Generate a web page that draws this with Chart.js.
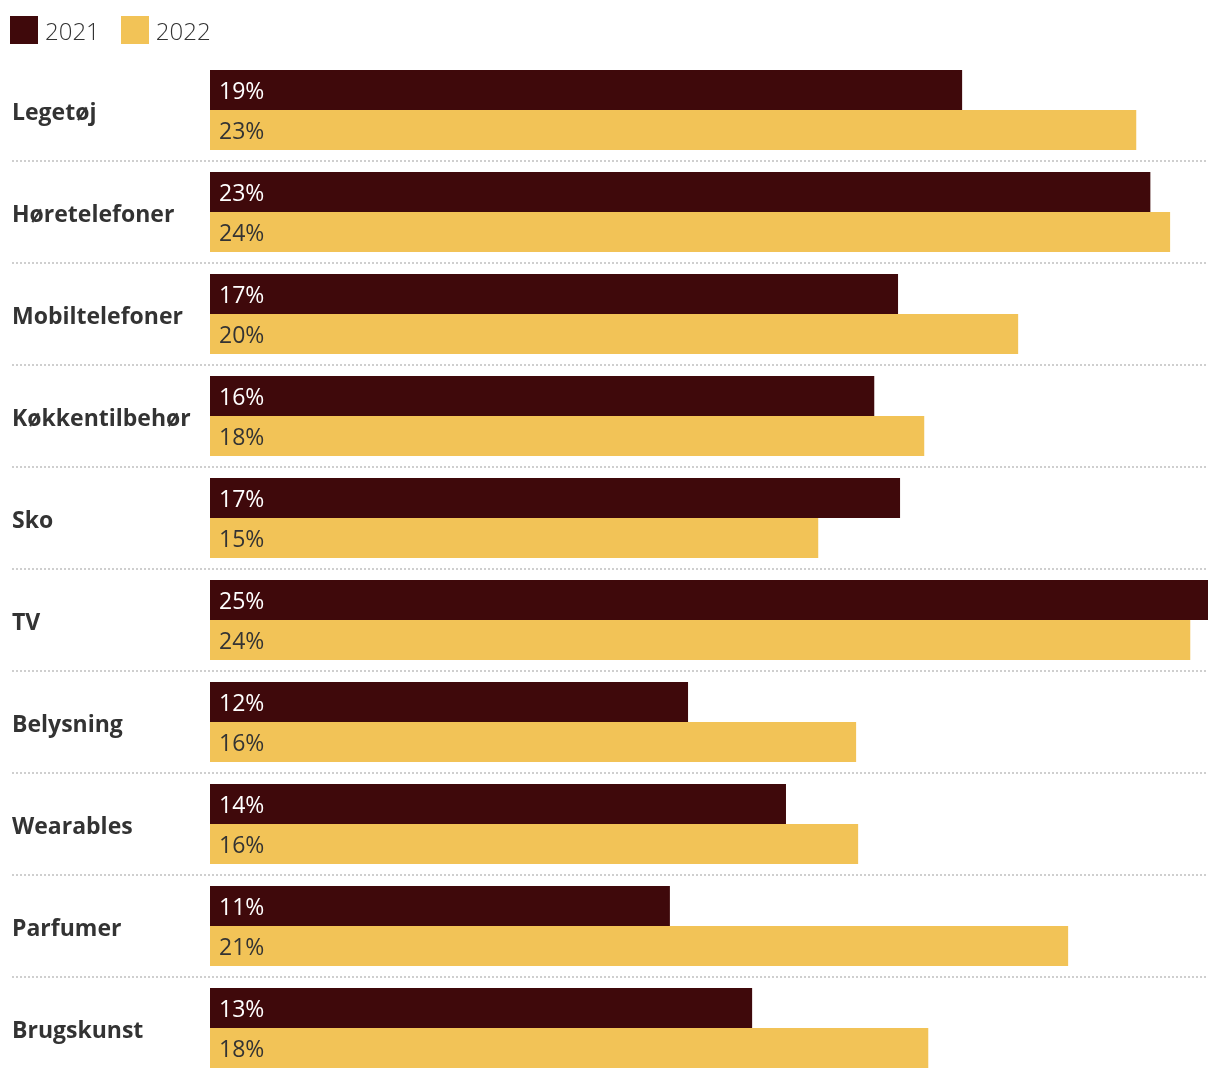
<!DOCTYPE html>
<html>
<head>
<meta charset="utf-8">
<script src="https://cdn.jsdelivr.net/npm/chart.js@4/dist/chart.umd.min.js"></script>
<style>
  body { margin: 0; background: #fff; font-family: "Open Sans", sans-serif; overflow: hidden; }
  #wrap { position: relative; width: 1220px; height: 1080px; }
  #legend { position: absolute; left: 10px; top: 16px; height: 28px; display: flex; align-items: center; font-size: 24px; font-weight: 300; color: #333; }
  #legend span.box { display: inline-block; width: 28px; height: 28px; margin-right: 7px; }
  #legend span.item { display: flex; align-items: center; margin-right: 21px; }
  canvas { display: block; }
</style>
</head>
<body>
<div id="wrap">
  <div id="legend"></div>
  <canvas id="chart" width="1220" height="1080"></canvas>
</div>
<script>
var categories = ["Legetøj", "Høretelefoner", "Mobiltelefoner", "Køkkentilbehør", "Sko", "TV", "Belysning", "Wearables", "Parfumer", "Brugskunst"];
var values2021 = [18.66, 23.33, 17.07, 16.48, 17.12, 24.76, 11.86, 14.29, 11.41, 13.45];
var values2022 = [22.98, 23.82, 20.05, 17.72, 15.09, 24.32, 16.03, 16.08, 21.29, 17.82];
var seriesNames = ["2021", "2022"];
var colors = ["#3f090b", "#f2c357"];
var labelColors = ["#ffffff", "#333333"];

// html legend
var legend = document.getElementById("legend");
seriesNames.forEach(function(name, i){
    var item = document.createElement("span");
    item.className = "item";
    item.innerHTML = '<span class="box" style="background:' + colors[i] + '"></span>' + name;
    legend.appendChild(item);
});

// dotted lines between categories
var separators = {
    id: "separators",
    beforeDatasetsDraw: function(chart){
        var ctx = chart.ctx;
        var y = chart.scales.y;
        var area = chart.chartArea;
        ctx.save();
        ctx.strokeStyle = "#cfcfcf";
        ctx.lineWidth = 2;
        ctx.setLineDash([2, 2]);
        for (var i = 0; i < categories.length - 1; i++) {
            var pos = Math.round((y.getPixelForValue(i) + y.getPixelForValue(i + 1)) / 2);
            ctx.beginPath();
            ctx.moveTo(12, pos);
            ctx.lineTo(area.right, pos);
            ctx.stroke();
        }
        ctx.restore();
    }
};

// percent labels inside bars
var barLabels = {
    id: "barLabels",
    afterDatasetsDraw: function(chart){
        var ctx = chart.ctx;
        ctx.save();
        ctx.font = '23px "Open Sans"';
        ctx.textBaseline = "middle";
        ctx.textAlign = "left";
        chart.data.datasets.forEach(function(ds, di){
            chart.getDatasetMeta(di).data.forEach(function(bar, i){
                ctx.fillStyle = labelColors[di];
                ctx.fillText(Math.round(ds.data[i]) + "%", chart.chartArea.left + 9, bar.y + 2);
            });
        });
        ctx.restore();
    }
};

new Chart("chart", {
    type: "bar",
    data: {
        labels: categories,
        datasets: [
            { label: seriesNames[0], data: values2021, backgroundColor: colors[0] },
            { label: seriesNames[1], data: values2022, backgroundColor: colors[1] }
        ]
    },
    options: {
        indexAxis: "y",
        responsive: false,
        animation: false,
        layout: { padding: { left: 12, right: 12, top: 59, bottom: 1 } },
        datasets: { bar: { categoryPercentage: 80 / 102, barPercentage: 1.0 } },
        plugins: {
            legend: { display: false },
            tooltip: { enabled: false }
        },
        scales: {
            x: { display: false, min: 0, max: 24.76 },
            y: {
                grid: { display: false },
                border: { display: false },
                afterFit: function(scale){
                    scale.width = 198;
                    scale.paddingTop = 0;
                    scale.paddingBottom = 0;
                },
                ticks: {
                    crossAlign: "far",
                    padding: 0,
                    labelOffset: 3,
                    color: "#333",
                    font: { family: "Open Sans", size: 23, weight: "bold" }
                }
            }
        }
    },
    plugins: [separators, barLabels]
});
</script>
</body>
</html>
